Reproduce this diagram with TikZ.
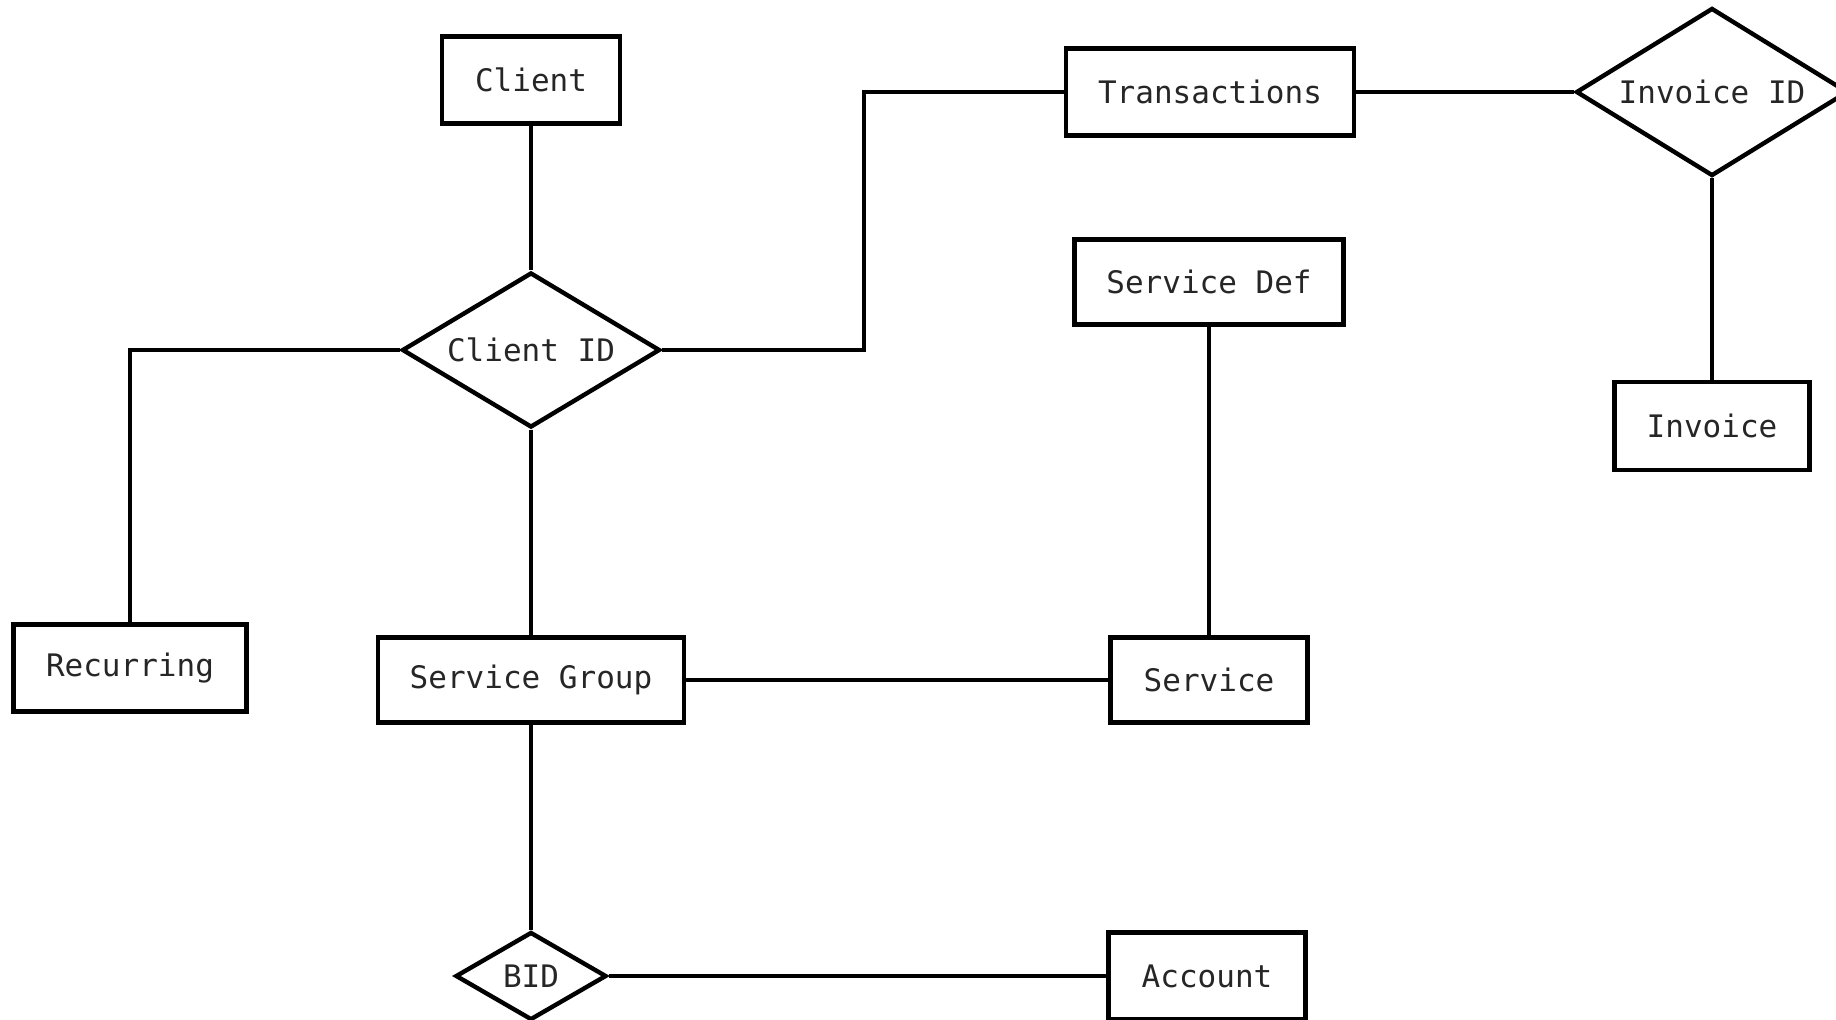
\documentclass[tikz,border=0pt]{standalone}
\usepackage{fontspec}
\newfontfamily\ermono{DejaVu Sans Mono}
\usetikzlibrary{shapes.geometric}
\tikzset{
  entity/.style={draw=black, line width=2.2pt, rectangle, inner sep=0pt, font=\ermono\fontsize{15.5pt}{18pt}\selectfont, text=black!85},
  rel/.style={draw=black, line width=2.2pt, diamond, inner sep=0pt, font=\ermono\fontsize{15.5pt}{18pt}\selectfont, text=black!85},
  link/.style={draw=black, line width=1.8pt}
}
\begin{document}
\begin{tikzpicture}[x=0.5pt, y=-0.5pt]
\useasboundingbox (0,0) rectangle (1836,1019);
\clip (0,0) rectangle (1836,1019);
\fill[white] (0,0) rectangle (1836,1019);
% entities
\node[entity, minimum width=89pt, minimum height=43.5pt] (client) at (531,80) {Client};
\node[entity, minimum width=144pt, minimum height=43.5pt] (trans) at (1210,92) {Transactions};
\node[entity, minimum width=134.5pt, minimum height=42.5pt] (sdef) at (1209,282) {Service Def};
\node[entity, minimum width=97.5pt, minimum height=44pt] (inv) at (1712,426) {Invoice};
\node[entity, minimum width=116.5pt, minimum height=43.5pt] (rec) at (130,668) {Recurring};
\node[entity, minimum width=153pt, minimum height=42.5pt] (sg) at (531,680) {Service Group};
\node[entity, minimum width=98.5pt, minimum height=42.5pt] (serv) at (1209,680) {Service};
\node[entity, minimum width=98.5pt, minimum height=43.5pt] (acct) at (1207,976) {Account};
% relationships
\node[rel, aspect=1.66, minimum width=129pt, minimum height=77.5pt] (cid) at (531,350) {Client ID};
\node[rel, aspect=1.55, minimum width=136pt, minimum height=84pt] (iid) at (1712,92) {Invoice ID};
\node[rel, aspect=1.7, minimum width=75.5pt, minimum height=44pt] (bid) at (531,976) {BID};
% connectors
\coordinate (bend) at (864,350);
\draw[link] (client.south) -- (cid.north);
\draw[link] (cid.west) -| (rec.north);
\draw[link] (cid.east) -- (bend) |- (trans.west);
\draw[link] (trans.east) -- (iid.west);
\draw[link] (iid.south) -- (inv.north);
\draw[link] (cid.south) -- (sg.north);
\draw[link] (sg.east) -- (serv.west);
\draw[link] (sdef.south) -- (serv.north);
\draw[link] (sg.south) -- (bid.north);
\draw[link] (bid.east) -- (acct.west);
\end{tikzpicture}
\end{document}
